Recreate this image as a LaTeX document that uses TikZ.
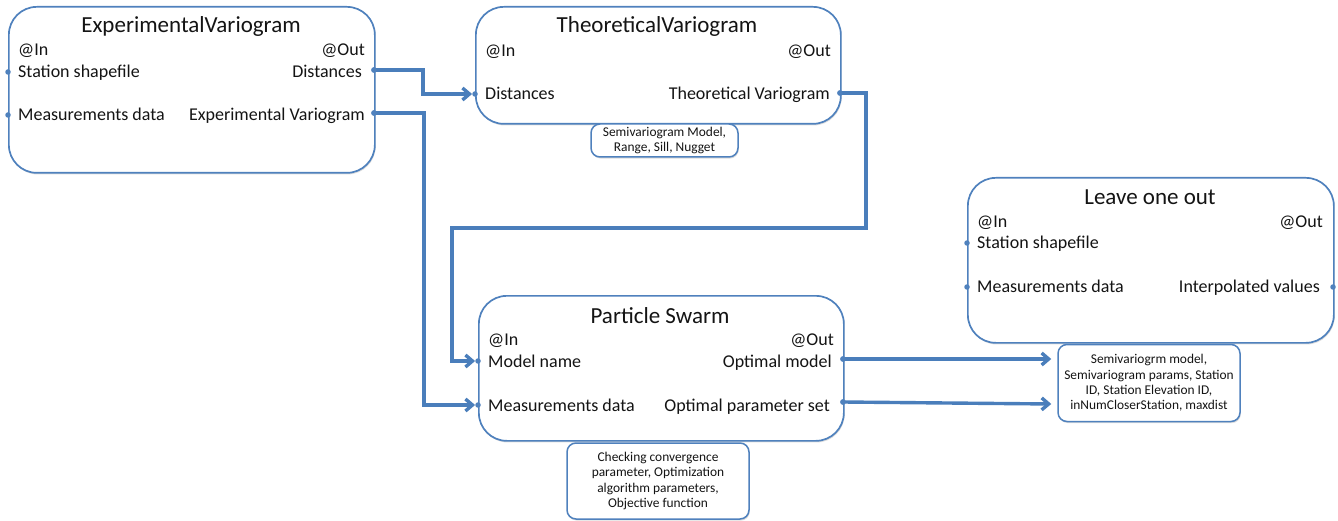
\documentclass[tikz,border=0pt]{standalone}
\usepackage{fontspec}
\setmainfont{Carlito}
\usetikzlibrary{arrows.meta,calc,shadows}
\definecolor{bblue}{RGB}{79,129,189}
\definecolor{cblue}{RGB}{74,126,187}
\definecolor{txt}{RGB}{20,20,20}
\tikzset{
  shd/.style={drop shadow={opacity=0.22, shadow xshift=0.8pt, shadow yshift=-1.6pt, fill=black!60}},
  bigbox/.style={draw=bblue, fill=white, line width=1.7pt, rounded corners=28pt, anchor=north west, inner sep=0pt, shd},
  smallbox/.style={draw=bblue, fill=white, line width=1.5pt, rounded corners=9pt, inner sep=0pt, align=center, text=txt,
    font=\fontsize{13.4}{15.2}\selectfont, shd},
  ttl/.style={anchor=base, text=txt, font=\fontsize{23}{27}\selectfont, inner sep=0pt},
  lab/.style={anchor=base west, text=txt, font=\fontsize{18}{21}\selectfont, inner sep=0pt},
  rlab/.style={anchor=base east, text=txt, font=\fontsize{18}{21}\selectfont, inner sep=0pt},
  port/.style={circle, fill=bblue, inner sep=0pt, minimum size=5.5pt},
  conn/.style={draw=cblue, line width=3.4pt, -{Straight Barb[length=7pt,width=12pt]}},
}
\begin{document}
\begin{tikzpicture}[x=1pt,y=-1pt]
\useasboundingbox (0,0) rectangle (1338,521);

% ---------- ExperimentalVariogram ----------
\node[bigbox, minimum width=366pt, minimum height=166pt] (ev) at (8,6) {};
\node[ttl] (evt) at (191,33) {ExperimentalVariogram};
\node[lab] (evin) at (18,56) {@In};
\node[rlab] (evout) at (365,56) {@Out};
\node[lab] (evl1) at (18,78) {Station shapefile};
\node[rlab] (evr1) at (362,78) {Distances};
\node[lab] (evl2) at (18,121) {Measurements data};
\node[rlab] (evr2) at (365,121) {Experimental Variogram};
\node[port] (evi1) at (8,72) {};
\node[port] (evi2) at (8,115) {};
\node[port] (evo1) at (374,70) {};
\node[port] (evo2) at (374,113) {};

% ---------- TheoreticalVariogram ----------
\node[bigbox, minimum width=365pt, minimum height=117pt] (tv) at (475,6) {};
\node[ttl] (tvt) at (657,33) {TheoreticalVariogram};
\node[lab] (tvin) at (485,57) {@In};
\node[rlab] (tvout) at (831,57) {@Out};
\node[lab] (tvl1) at (485,100) {Distances};
\node[rlab] (tvr1) at (830,100) {Theoretical Variogram};
\node[port] (tvi1) at (475,94) {};
\node[port] (tvo1) at (840,93) {};
\node[smallbox, minimum width=147pt, minimum height=33pt] (tvp) at (664.5,140.5)
  {Semivariogram Model,\\Range, Sill, Nugget};

% ---------- Particle Swarm ----------
\node[bigbox, minimum width=365pt, minimum height=145pt] (ps) at (478,295) {};
\node[ttl] (pst) at (660,323) {Particle Swarm};
\node[lab] (psin) at (488,345) {@In};
\node[rlab] (psout) at (834,345) {@Out};
\node[lab] (psl1) at (488,367) {Model name};
\node[rlab] (psr1) at (832,367) {Optimal model};
\node[lab] (psl2) at (488,411) {Measurements data};
\node[rlab] (psr2) at (830,411) {Optimal parameter set};
\node[port] (psi1) at (478,361) {};
\node[port] (psi2) at (478,405) {};
\node[port] (pso1) at (843,359) {};
\node[port] (pso2) at (843,402) {};
\node[smallbox, minimum width=182pt, minimum height=76pt] (psp) at (658,481)
  {Checking convergence\\parameter, Optimization\\algorithm parameters,\\Objective function};

% ---------- Leave one out ----------
\node[bigbox, minimum width=366pt, minimum height=165pt] (lo) at (967,177) {};
\node[ttl] (lot) at (1150,205) {Leave one out};
\node[lab] (loin) at (977,228) {@In};
\node[rlab] (loout) at (1323,228) {@Out};
\node[lab] (lol1) at (977,249) {Station shapefile};
\node[lab] (lol2) at (977,293) {Measurements data};
\node[rlab] (lor2) at (1320,293) {Interpolated values};
\node[port] (loi1) at (967,243) {};
\node[port] (loi2) at (967,287) {};
\node[port] (loo2) at (1333,287) {};
\node[smallbox, minimum width=182pt, minimum height=77pt] (lop) at (1149,383)
  {Semivariogrm model,\\Semivariogram params, Station\\ID, Station Elevation ID,\\inNumCloserStation, maxdist};

% ---------- connectors ----------
\coordinate (c1) at (423,70);
\draw[conn] (evo1.center) -- (c1) |- (tvi1);

\coordinate (c2) at (424,113);
\draw[conn] (evo2.center) -- (c2) |- (psi2);

\coordinate (c3a) at (866,93);
\coordinate (c3b) at (866,228);
\coordinate (c3c) at (452,228);
\draw[conn] (tvo1.center) -- (c3a) -- (c3b) -- (c3c) |- (psi1);

\coordinate (c4) at ([xshift=-6pt]lop.west |- pso1);
\draw[conn] (pso1.center) -- (c4);
\coordinate (c5) at ($(lop.west)+(-6,21)$);
\draw[conn] (pso2.center) -- (c5);

% redraw ports on top of connectors
\foreach \p in {evo1,evo2,tvo1,pso1,pso2} \fill[bblue] (\p) circle (2.75pt);
\end{tikzpicture}
\end{document}
